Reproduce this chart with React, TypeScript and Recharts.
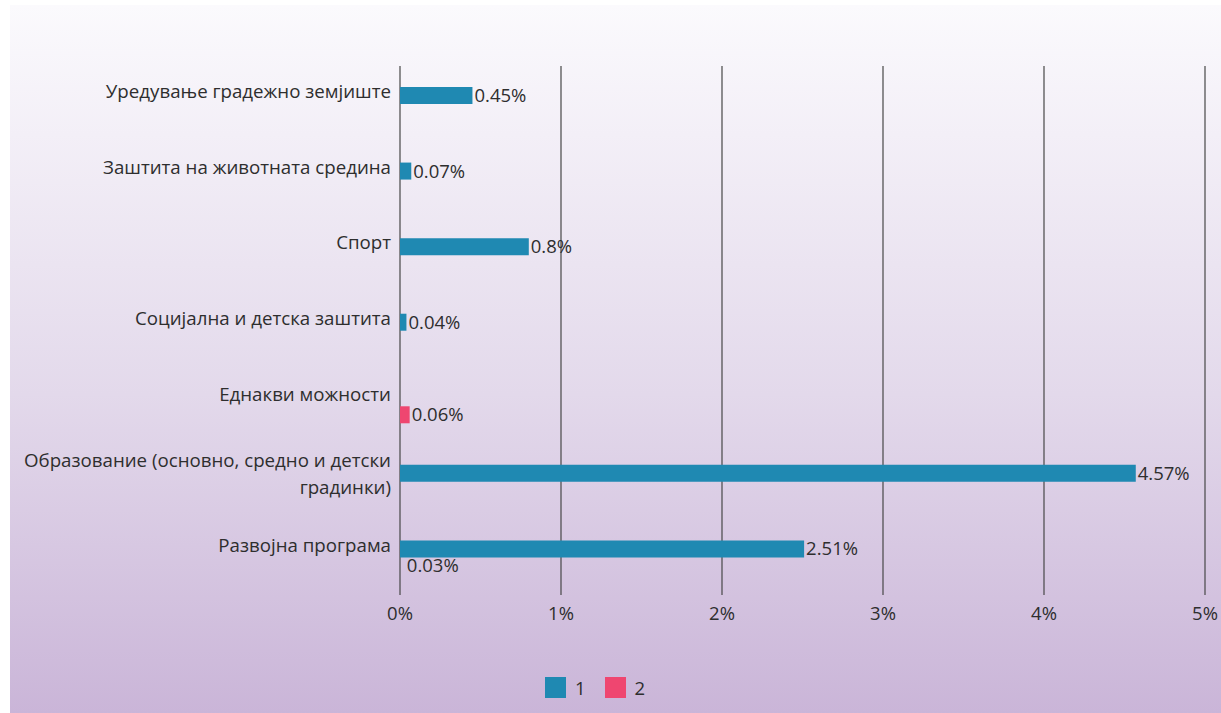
import React from 'react';
import { BarChart, Bar, XAxis, YAxis, CartesianGrid, LabelList, Legend, Cell } from 'recharts';

const categories = [
  'Уредување градежно земјиште',
  'Заштита на животната средина',
  'Спорт',
  'Социјална и детска заштита',
  'Еднакви можности',
  'Образование (основно, средно и детски\nградинки)',
  'Развојна програма',
];
const series1 = [0.45, 0.07, 0.8, 0.04, null, 4.57, 2.51];
const series2 = [null, null, null, null, 0.06, null, 0.03];
const xTicks = [0, 1, 2, 3, 4, 5];
const seriesNames = ['1', '2'];

const BLUE = '#1F89B2';
const PINK = '#EF4670';
const TEXT = '#2e2e2e';
const FONT = '"Open Sans", sans-serif';

const data = categories.map((c, i) => ({ name: c, s1: series1[i], s2: series2[i] }));

const CatTick = (props: any) => {
  const { x, y, payload } = props;
  const lines = String(payload.value).split('\n');
  return (
    <g>
      {lines.map((l, i) => {
        const off = lines.length === 1 ? -12 : i === 0 ? -21 : 6;
        return (
          <text key={i} x={x} y={y + off} dy="0.35em" textAnchor="end" fill={TEXT} fontSize={18.7} fontFamily={FONT}>
            {l}
          </text>
        );
      })}
    </g>
  );
};

const ValueLabel = (props: any) => {
  const { x, y, width, height, value } = props;
  if (value === null || value === undefined) return null;
  return (
    <text x={x + width + 2} y={y + height / 2} dy="0.35em" textAnchor="start" fill={TEXT} fontSize={18.5} fontFamily={FONT}>
      {`${value}%`}
    </text>
  );
};

const LegendContent = () => (
  <div style={{ display: 'flex', alignItems: 'center', fontFamily: FONT, fontSize: 18.5, color: TEXT }}>
    <span style={{ display: 'inline-block', width: 21, height: 21, background: BLUE, marginRight: 9 }} />
    <span style={{ marginRight: 19 }}>{seriesNames[0]}</span>
    <span style={{ display: 'inline-block', width: 21, height: 21, background: PINK, marginRight: 9 }} />
    <span>{seriesNames[1]}</span>
  </div>
);

export default function App() {
  return (
    <div
      style={{
        position: 'absolute',
        left: 10,
        top: 5,
        width: 1211,
        height: 708,
        background: 'linear-gradient(to bottom, #fbfafd 0%, #e3d9eb 55%, #cab5d8 100%)',
      }}
    >
      <BarChart
        width={1211}
        height={708}
        data={data}
        layout="vertical"
        margin={{ top: 61, right: 16, left: 0, bottom: 88 }}
        barSize={17}
        barGap={0}
      >
        <CartesianGrid horizontal={false} vertical={true} stroke="#474747" strokeWidth={1.2} />
        <XAxis
          type="number"
          domain={[0, 5]}
          ticks={xTicks}
          tickFormatter={(v: number) => `${v}%`}
          axisLine={false}
          tickLine={false}
          tickMargin={6}
          height={30}
          tick={{ fill: TEXT, fontSize: 18.5, fontFamily: FONT }}
          interval={0}
        />
        <YAxis
          type="category"
          dataKey="name"
          width={390}
          axisLine={false}
          tickLine={false}
          tickMargin={3}
          interval={0}
          tick={<CatTick />}
        />
        <Legend
          layout="horizontal"
          verticalAlign="middle"
          align="center"
          content={<LegendContent />}
          wrapperStyle={{ position: 'absolute', left: 535, top: 670, width: 140, height: 22 }}
        />
        <Bar dataKey="s1" name={seriesNames[0]} fill={BLUE} isAnimationActive={false}>
          <LabelList dataKey="s1" content={<ValueLabel />} />
        </Bar>
        <Bar dataKey="s2" name={seriesNames[1]} fill={PINK} isAnimationActive={false}>
          {series2.map((v, i) => (
            <Cell key={i} fill={i === series2.length - 1 ? 'transparent' : PINK} />
          ))}
          <LabelList dataKey="s2" content={<ValueLabel />} />
        </Bar>
      </BarChart>
    </div>
  );
}
